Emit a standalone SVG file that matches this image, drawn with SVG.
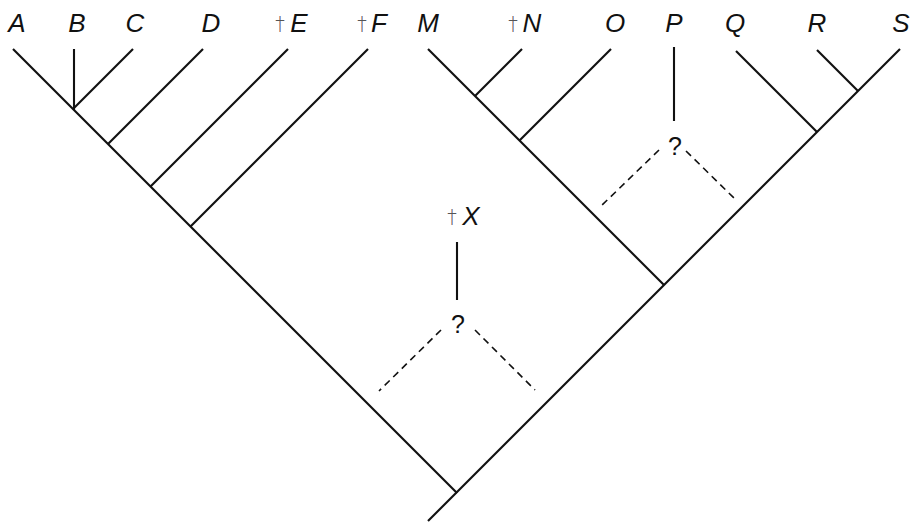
<svg xmlns="http://www.w3.org/2000/svg" width="910" height="526" viewBox="0 0 910 526">
<style>
.lbl{font-family:"Liberation Sans",Arial,sans-serif;font-style:italic;font-size:26px;fill:#111;text-anchor:middle}
.dag{font-family:"DejaVu Sans","Liberation Sans",sans-serif;font-weight:300;font-size:19px;fill:#555;text-anchor:middle}
.q{font-family:"Liberation Sans",Arial,sans-serif;font-size:25px;fill:#111;text-anchor:middle}
.br{stroke:#111;stroke-width:2.1;fill:none;stroke-linecap:butt}
.ds{stroke:#111;stroke-width:1.6;fill:none;stroke-dasharray:7 5}
</style>
<rect width="910" height="526" fill="#fff"/>
<g id="connectors">
  <line class="br" x1="13" y1="49" x2="457" y2="493"/>
  <line class="br" x1="900" y1="49" x2="428" y2="521"/>
  <line class="br" x1="74" y1="49" x2="74" y2="110"/>
  <line class="br" x1="133" y1="49" x2="74" y2="108"/>
  <line class="br" x1="203" y1="49" x2="108" y2="144"/>
  <line class="br" x1="288" y1="49" x2="150.5" y2="186.5"/>
  <line class="br" x1="368" y1="49" x2="190.5" y2="226.5"/>
  <line class="br" x1="428" y1="49" x2="664" y2="285"/>
  <line class="br" x1="522" y1="49" x2="475" y2="96"/>
  <line class="br" x1="611" y1="49" x2="519.5" y2="140.5"/>
  <line class="br" x1="736" y1="51" x2="817" y2="132"/>
  <line class="br" x1="817" y1="50" x2="858" y2="91"/>
  <line class="br" x1="674" y1="47" x2="674" y2="121"/>
  <line class="br" x1="457" y1="242" x2="457" y2="300"/>
  <line class="ds" x1="659" y1="150" x2="599" y2="208"/>
  <line class="ds" x1="686" y1="151" x2="736" y2="200"/>
  <line class="ds" x1="441" y1="330" x2="379" y2="391"/>
  <line class="ds" x1="475" y1="330" x2="535" y2="390"/>
</g>
<g id="A"><text class="lbl" x="17" y="32">A</text></g>
<g id="B"><text class="lbl" x="77" y="32">B</text></g>
<g id="C"><text class="lbl" x="135" y="32">C</text></g>
<g id="D"><text class="lbl" x="211" y="32">D</text></g>
<g id="E"><text class="dag" x="280" y="30">†</text><text class="lbl" x="299" y="32">E</text></g>
<g id="F"><text class="dag" x="362" y="30">†</text><text class="lbl" x="379" y="32">F</text></g>
<g id="M"><text class="lbl" x="428" y="32">M</text></g>
<g id="N"><text class="dag" x="513" y="30">†</text><text class="lbl" x="532" y="32">N</text></g>
<g id="O"><text class="lbl" x="615" y="32">O</text></g>
<g id="P"><text class="lbl" x="674" y="32">P</text></g>
<g id="Q"><text class="lbl" x="735" y="32">Q</text></g>
<g id="R"><text class="lbl" x="817" y="32">R</text></g>
<g id="S"><text class="lbl" x="901" y="32">S</text></g>
<g id="X"><text class="dag" x="452" y="223">†</text><text class="lbl" x="471" y="225">X</text></g>
<g id="qX"><text class="q" x="458" y="333">?</text></g>
<g id="qP"><text class="q" x="675" y="155">?</text></g>
</svg>
